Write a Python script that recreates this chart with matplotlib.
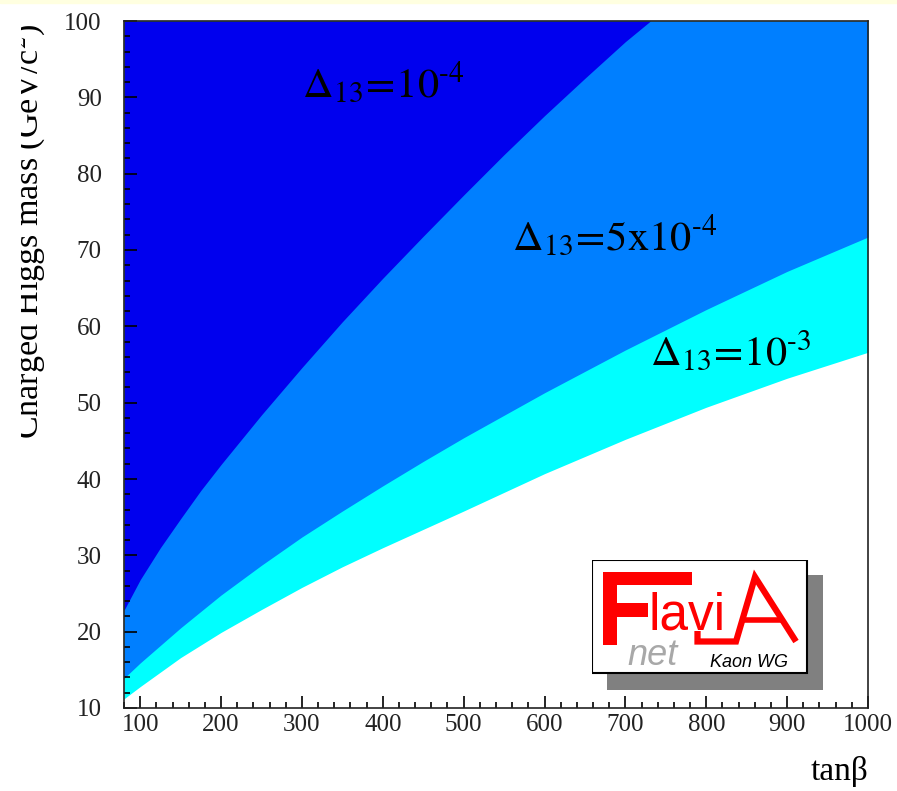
import numpy as np
import matplotlib.pyplot as plt
from matplotlib.patches import Rectangle
from matplotlib.lines import Line2D
from matplotlib.ticker import MultipleLocator
from matplotlib.transforms import Bbox, TransformedBbox

plt.rcParams['font.family'] = ['Liberation Serif', 'DejaVu Serif']
plt.rcParams['mathtext.fontset'] = 'stix'

# boundaries (tan beta, charged Higgs mass)
tanb_1 = [80, 100, 125, 150, 175, 200, 250, 300, 350, 400, 450, 500, 550, 600, 650, 700, 731]
mh_1 = [22.8, 26.8, 31.0, 34.8, 38.5, 41.9, 48.4, 54.6, 60.6, 66.3, 71.8, 77.2, 82.5, 87.6, 92.5, 97.3, 100]

tanb_2 = [80, 100, 150, 200, 250, 300, 350, 400, 450, 500, 600, 700, 800, 900, 1000]
mh_2 = [13.9, 15.9, 20.5, 24.8, 28.7, 32.4, 35.8, 39.1, 42.3, 45.4, 51.3, 56.9, 62.2, 67.2, 71.7]

tanb_3 = [80, 100, 150, 200, 250, 300, 350, 400, 450, 500, 600, 700, 800, 900, 1000]
mh_3 = [11.2, 12.8, 16.6, 19.9, 22.9, 25.8, 28.5, 31.0, 33.4, 35.8, 40.7, 45.2, 49.4, 53.2, 56.6]

labels = [r'$\Delta_{13}\!=\!10^{\text{-4}}$', r'$\Delta_{13}\!=\!5\text{x}10^{\text{-4}}$',
          r'$\Delta_{13}\!=\!10^{\text{-3}}$']
label_pos = [(300, 90), (560, 70), (730, 55)]

fig = plt.figure(figsize=(8.97, 7.91), dpi=100)
W, H = 897, 791
ax = fig.add_axes([124 / W, 1 - 708 / H, 744 / W, 687 / H])

ax.fill_between(tanb_3, mh_3, 100, color='#00ffff', lw=0)
ax.fill_between(tanb_2, mh_2, 100, color='#007fff', lw=0)
ax.fill_between(tanb_1, mh_1, 100, color='#0000ee', lw=0)

for s, (x, y) in zip(labels, label_pos):
    ax.text(x, y, s, fontsize=30.5, ha='left', va='baseline', color='black')

ax.set_xlim(80, 1000)
ax.set_ylim(10, 100)
ax.xaxis.set_major_locator(MultipleLocator(100))
ax.xaxis.set_minor_locator(MultipleLocator(20))
ax.yaxis.set_major_locator(MultipleLocator(10))
ax.yaxis.set_minor_locator(MultipleLocator(2))
ax.tick_params(which='both', direction='in', top=False, right=False, width=1.2, color='black')
ax.tick_params(which='major', length=9)
ax.tick_params(which='minor', length=4.5)
ax.tick_params(axis='x', which='major', pad=4, labelsize=18, labelcolor='#222222')
ax.tick_params(axis='y', which='major', pad=16, labelsize=18, labelcolor='#222222')
for sp in ax.spines.values():
    sp.set_linewidth(1.2)
    sp.set_color('#222222')

# axis titles
fig.text(868 / W, 1 - 780 / H, 'tanβ', ha='right', va='baseline', fontsize=24)
yl = fig.text(38 / W, 1 - 23 / H, 'Charged Higgs mass (GeV/c$^2$)', rotation=90,
              rotation_mode='anchor', ha='right', va='baseline', fontsize=24.5)
yl.set_clip_box(TransformedBbox(Bbox([[21 / W, 0], [1, 1]]), fig.transFigure))
yl.set_clip_on(True)

# pale strip on top edge
fig.patches.append(Rectangle((0, 1 - 3 / H), 1, 3 / H, transform=fig.transFigure,
                             color='#ffffe0', zorder=0))

# logo
lg = fig.add_axes([592 / W, 1 - 690 / H, 231 / W, 130 / H])
lg.set_xlim(0, 231)
lg.set_ylim(0, 130)
lg.axis('off')
lg.add_patch(Rectangle((15, 0), 216, 115, color='#808080', lw=0))
lg.add_patch(Rectangle((0, 17), 215, 113, facecolor='white', edgecolor='black', lw=1.5))
red = '#ff0000'
lg.add_patch(Rectangle((11, 45), 14, 73, color=red, lw=0))
lg.add_patch(Rectangle((11, 105), 89, 13, color=red, lw=0))
lg.add_patch(Rectangle((11, 73), 45, 14, color=red, lw=0))
lg.text(56, 60, 'lavi', color=red, fontsize=37, family='Liberation Sans', va='baseline')
lg.add_line(Line2D([105.5, 105.5, 144, 163, 204], [59, 48.5, 48.5, 113, 48.5], color=red,
                   lw=4.5, solid_joinstyle='miter', solid_capstyle='butt'))
lg.add_line(Line2D([150, 190.5], [70, 70], color=red, lw=4, solid_capstyle='butt'))
lg.text(35, 25, 'net', color='#a8a8a8', fontsize=26, family='Liberation Sans',
        style='italic', va='baseline')
lg.text(118, 23, 'Kaon WG', color='black', fontsize=13, family='Liberation Sans',
        style='italic', va='baseline')

plt.savefig('out.png', dpi=100)
